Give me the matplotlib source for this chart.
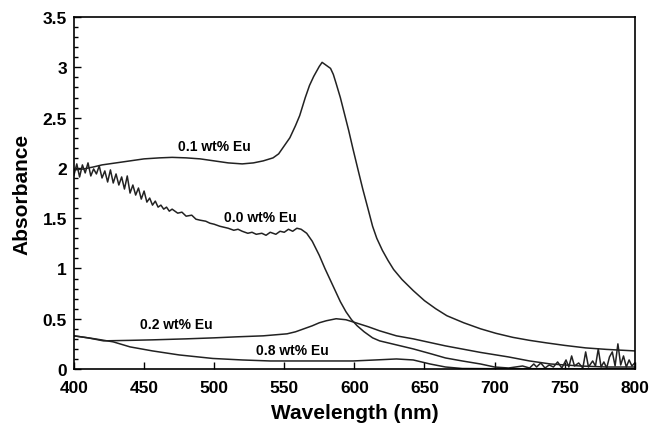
import matplotlib.pyplot as plt
from matplotlib.ticker import MultipleLocator

plt.rcParams['font.family'] = ['Liberation Sans', 'DejaVu Sans']
plt.rcParams['font.weight'] = 'bold'

# 0.1 wt% Eu
wl_01 = [400, 407, 414, 420, 430, 440, 450, 461, 470, 480, 490, 500, 510, 520, 528, 535, 542, 546,
         550, 554, 558, 561, 565, 568, 571, 573, 575, 577, 579, 581, 583, 585, 587, 590, 592, 596,
         599, 603, 606, 610, 613, 616, 620, 624, 628, 634, 642, 650, 658, 666, 678, 690, 701, 713,
         725, 737, 750, 765, 780, 800]
ab_01 = [1.98, 1.99, 2.01, 2.03, 2.05, 2.07, 2.09, 2.10, 2.105, 2.10, 2.09, 2.07, 2.05, 2.04, 2.05, 2.07, 2.10, 2.14,
         2.22, 2.30, 2.42, 2.52, 2.70, 2.82, 2.91, 2.96, 3.01, 3.05, 3.03, 3.01, 2.99, 2.93, 2.84, 2.70, 2.59, 2.37,
         2.19, 1.96, 1.79, 1.58, 1.42, 1.30, 1.18, 1.08, 0.99, 0.89, 0.78, 0.68, 0.60, 0.53, 0.46, 0.40, 0.355, 0.315,
         0.285, 0.26, 0.235, 0.21, 0.195, 0.18]

# 0.0 wt% Eu (noisy at both ends)
wl_00 = [400, 402, 404, 406, 408, 410, 412, 414, 416, 418, 420, 422, 424, 426, 428, 430, 432, 434,
         436, 438, 440, 442, 444, 446, 448, 450, 452, 454, 456, 458, 460, 462, 464, 466, 468, 470,
         474, 477, 480, 484, 487, 490, 494, 497, 500, 504, 507, 510, 514, 517, 520, 524, 527, 530,
         534, 537, 540, 544, 547, 550, 553, 556, 559, 562, 566, 570, 575, 579, 583, 587, 590, 594,
         598, 602, 607, 613, 618, 630, 642, 655, 665, 677, 690, 700,
         710, 720, 725, 728, 730, 733, 736, 739, 742, 745, 748, 751, 753, 755, 757, 760, 763, 765,
         767, 770, 772, 774, 776, 778, 780, 782, 784, 786, 788, 790, 792, 794, 796, 798, 800]
ab_00 = [1.93, 2.04, 1.91, 2.03, 1.95, 2.05, 1.92, 1.99, 1.94, 2.02, 1.90, 1.97, 1.86, 1.98, 1.85, 1.94, 1.83, 1.91,
         1.79, 1.92, 1.75, 1.83, 1.73, 1.80, 1.69, 1.77, 1.66, 1.70, 1.63, 1.67, 1.61, 1.63, 1.59, 1.61, 1.57, 1.59,
         1.55, 1.56, 1.52, 1.53, 1.49, 1.48, 1.47, 1.45, 1.44, 1.42, 1.41, 1.40, 1.38, 1.39, 1.37, 1.35, 1.36, 1.34,
         1.35, 1.33, 1.36, 1.34, 1.37, 1.36, 1.39, 1.37, 1.40, 1.39, 1.35, 1.27, 1.13, 1.00, 0.88, 0.76, 0.67, 0.57,
         0.49, 0.43, 0.37, 0.31, 0.28, 0.24, 0.20, 0.15, 0.11, 0.08, 0.05, 0.02,
         0.01, 0.03, 0.01, 0.05, 0.02, 0.06, 0.01, 0.04, 0.02, 0.07, 0.01, 0.09, 0.02, 0.13, 0.03, 0.06, 0.01, 0.17,
         0.02, 0.08, 0.03, 0.20, 0.02, 0.07, 0.01, 0.12, 0.17, 0.03, 0.25, 0.04, 0.13, 0.02, 0.09, 0.03, 0.06]

# 0.2 wt% Eu
wl_02 = [400, 410, 421, 440, 456, 480, 500, 516, 535, 552, 558, 564, 570, 575, 580, 587, 594, 601, 610, 618,
         630, 642, 665, 690, 710, 725, 740, 761, 780, 800]
ab_02 = [0.33, 0.31, 0.28, 0.285, 0.29, 0.30, 0.31, 0.32, 0.33, 0.35, 0.37, 0.40, 0.43, 0.46, 0.48, 0.50, 0.49, 0.46, 0.42, 0.38,
         0.33, 0.30, 0.23, 0.165, 0.12, 0.08, 0.05, 0.03, 0.02, 0.02]

# 0.8 wt% Eu
wl_08 = [400, 415, 428, 440, 456, 475, 499, 520, 540, 570, 599, 615, 630, 642, 654, 665, 677, 700, 800]
ab_08 = [0.33, 0.30, 0.27, 0.22, 0.18, 0.14, 0.105, 0.09, 0.08, 0.08, 0.08, 0.09, 0.10, 0.09, 0.05, 0.02, 0.005, 0.003, 0.003]

fig = plt.figure(figsize=(6.49, 4.31), dpi=100)
ax = fig.add_axes([0.114, 0.1415, 0.864, 0.8165])

c = '#222222'
ax.plot(wl_01, ab_01, color=c, lw=1.1)
ax.plot(wl_00, ab_00, color=c, lw=1.1)
ax.plot(wl_02, ab_02, color=c, lw=1.1)
ax.plot(wl_08, ab_08, color=c, lw=1.1)

ax.text(500, 2.22, '0.1 wt% Eu', ha='center', va='center', fontsize=10, fontweight='bold')
ax.text(533, 1.51, '0.0 wt% Eu', ha='center', va='center', fontsize=10, fontweight='bold')
ax.text(473, 0.45, '0.2 wt% Eu', ha='center', va='center', fontsize=10, fontweight='bold')
ax.text(556, 0.19, '0.8 wt% Eu', ha='center', va='center', fontsize=10, fontweight='bold')

ax.set_xlim(400, 800)
ax.set_ylim(0, 3.5)
ax.xaxis.set_major_locator(MultipleLocator(50))
ax.yaxis.set_minor_locator(MultipleLocator(0.1))
ax.set_yticks([0, 0.5, 1, 1.5, 2, 2.5, 3, 3.5])
ax.set_yticklabels(['0', '0.5', '1', '1.5', '2', '2.5', '3', '3.5'])
ax.tick_params(direction='in', labelsize=12.5, length=5, width=1)
ax.tick_params(axis='x', pad=8)
ax.tick_params(axis='y', pad=5)
ax.tick_params(which='minor', direction='in', length=3, width=1)
for s in ax.spines.values():
    s.set_linewidth(1.2)

ax.set_xlabel('Wavelength (nm)', fontsize=15, fontweight='bold', labelpad=6)
ax.set_ylabel('Absorbance', fontsize=15, fontweight='bold', labelpad=8)

plt.savefig('out.png', dpi=100)
